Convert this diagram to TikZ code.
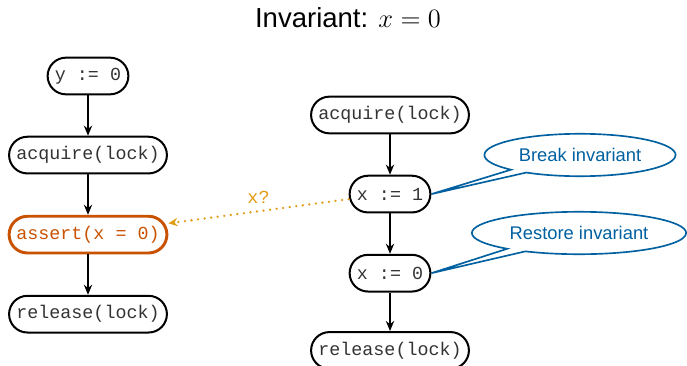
\documentclass[tikz,border=0pt]{standalone}
\usepackage{fontspec}
\setsansfont{Liberation Sans}
\setmonofont{Liberation Mono}
\usepackage{xcolor}
\usepackage{tikz}
\usetikzlibrary{positioning}
\usetikzlibrary{arrows.meta}
\usetikzlibrary{shapes.callouts}
\definecolor{invblue}{RGB}{0,96,160}
\definecolor{assertorange}{RGB}{200,82,0}
\definecolor{peekorange}{RGB}{225,155,20}
\tikzstyle{stmt} = [draw=black, text=black!80, line width=1.1pt, rectangle, rounded corners=10pt,
minimum height=20pt, inner xsep=4pt, font=\ttfamily\fontsize{10}{12}\selectfont]
\tikzstyle{badstmt} = [stmt, draw=assertorange, text=assertorange, line width=1.6pt]
\tikzstyle{flow} = [-{Stealth[length=5.5pt,width=4.5pt]}, line width=1pt]
\tikzstyle{peek} = [-{Stealth[length=5pt,width=4.5pt]}, dash pattern=on 0pt off 3.6pt, line cap=round,
line width=1.4pt, draw=peekorange]
\tikzstyle{remark} = [ellipse callout, draw=invblue, text=invblue, line width=0.9pt,
inner xsep=3.5pt, inner ysep=4.5pt, callout pointer arc=12, font=\sffamily\fontsize{10}{12}\selectfont]

\begin{document}
\begin{tikzpicture}[x=0.545pt, y=-0.545pt]
        \useasboundingbox (0,0) rectangle (687,365);
        \node[font=\sffamily\fontsize{15}{18}\selectfont] (title) at (348,18) {Invariant: $x = 0$};
        % first thread
        \node[stmt] (y0) at (88,76) {y := 0};
        \node[stmt, below=22pt of y0] (lacq) {acquire(lock)};
        \node[badstmt, below=22pt of lacq] (assert) {assert(x = 0)};
        \node[stmt, below=22pt of assert] (lrel) {release(lock)};
        % second thread
        \node[stmt] (racq) at (390,115) {acquire(lock)};
        \node[stmt, below=22pt of racq] (x1) {x := 1};
        \node[stmt, below=22pt of x1] (x0) {x := 0};
        \node[stmt, below=21pt of x0] (rrel) {release(lock)};
        \draw[flow] (y0) -- (lacq);
        \draw[flow] (lacq) -- (assert);
        \draw[flow] (assert) -- (lrel);
        \draw[flow] (racq) -- (x1);
        \draw[flow] (x1) -- (x0);
        \draw[flow] (x0) -- (rrel);
        \draw[peek] (x1.187) -- node[midway, above, text=peekorange, font=\ttfamily\fontsize{10}{12}\selectfont] {x?} (assert.8);
        % comments on the second thread
        \node[remark, callout absolute pointer={(x1.east)}] (brk) at (580,155) {Break invariant};
        \node[remark, callout absolute pointer={(x0.east)}] (rst) at (579,233) {Restore invariant};
    \end{tikzpicture}
\end{document}
